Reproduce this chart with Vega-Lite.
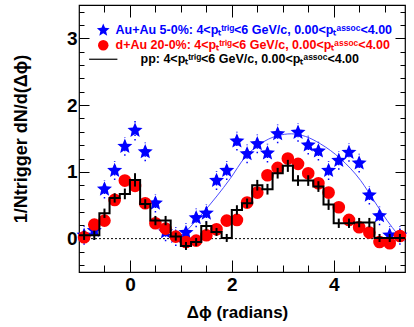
{
  "$schema": "https://vega.github.io/schema/vega-lite/v6.json",
  "width": 326,
  "height": 267,
  "autosize": "none",
  "padding": {"left": 79, "top": 5, "right": 9, "bottom": 55},
  "background": "white",
  "config": {
    "view": {"stroke": "black", "strokeWidth": 1.2},
    "font": "Liberation Sans",
    "axis": {"grid": false, "domain": false, "labelFont": "Liberation Sans", "labelFontWeight": "bold", "labelFontSize": 19, "labelColor": "black", "tickColor": "black", "titleColor": "black", "titleFont": "Liberation Sans", "titleFontWeight": "bold"}
  },
  "datasets": {
    "pts": [
      {"s": "AA", "x": -0.9, "y": 0.05, "lo": -0.09, "hi": 0.19}, {"s": "AA", "x": -0.7, "y": 0.12, "lo": -0.02, "hi": 0.26}, {"s": "AA", "x": -0.5, "y": 0.74, "lo": 0.6, "hi": 0.88}, {"s": "AA", "x": -0.3, "y": 1.02, "lo": 0.88, "hi": 1.16}, {"s": "AA", "x": -0.1, "y": 1.38, "lo": 1.24, "hi": 1.52}, {"s": "AA", "x": 0.1, "y": 1.62, "lo": 1.47, "hi": 1.77}, {"s": "AA", "x": 0.3, "y": 1.30, "lo": 1.16, "hi": 1.44}, {"s": "AA", "x": 0.5, "y": 0.53, "lo": 0.39, "hi": 0.67}, {"s": "AA", "x": 0.7, "y": 0.10, "lo": -0.04, "hi": 0.24}, {"s": "AA", "x": 0.9, "y": 0.03, "lo": -0.11, "hi": 0.17}, {"s": "AA", "x": 1.1, "y": 0.09, "lo": -0.05, "hi": 0.23}, {"s": "AA", "x": 1.3, "y": 0.31, "lo": 0.17, "hi": 0.45}, {"s": "AA", "x": 1.5, "y": 0.38, "lo": 0.24, "hi": 0.52}, {"s": "AA", "x": 1.7, "y": 0.87, "lo": 0.73, "hi": 1.01}, {"s": "AA", "x": 1.9, "y": 1.02, "lo": 0.88, "hi": 1.16}, {"s": "AA", "x": 2.1, "y": 1.46, "lo": 1.32, "hi": 1.6}, {"s": "AA", "x": 2.3, "y": 1.27, "lo": 1.13, "hi": 1.41}, {"s": "AA", "x": 2.5, "y": 1.42, "lo": 1.28, "hi": 1.56}, {"s": "AA", "x": 2.7, "y": 1.28, "lo": 1.14, "hi": 1.42}, {"s": "AA", "x": 2.9, "y": 1.57, "lo": 1.43, "hi": 1.71}, {"s": "AA", "x": 3.3, "y": 1.59, "lo": 1.45, "hi": 1.73}, {"s": "AA", "x": 3.5, "y": 1.40, "lo": 1.26, "hi": 1.54}, {"s": "AA", "x": 3.7, "y": 1.31, "lo": 1.17, "hi": 1.45}, {"s": "AA", "x": 3.9, "y": 1.02, "lo": 0.88, "hi": 1.16}, {"s": "AA", "x": 4.1, "y": 1.17, "lo": 1.03, "hi": 1.31}, {"s": "AA", "x": 4.3, "y": 1.29, "lo": 1.15, "hi": 1.43}, {"s": "AA", "x": 4.5, "y": 1.13, "lo": 0.99, "hi": 1.27}, {"s": "AA", "x": 4.7, "y": 0.65, "lo": 0.51, "hi": 0.79}, {"s": "AA", "x": 4.9, "y": 0.34, "lo": 0.2, "hi": 0.48}, {"s": "AA", "x": 5.1, "y": 0.05, "lo": -0.09, "hi": 0.19}, {"s": "AA", "x": 5.3, "y": 0.05, "lo": -0.09, "hi": 0.19},
      {"s": "DA", "x": -0.9, "y": 0.02}, {"s": "DA", "x": -0.7, "y": 0.21}, {"s": "DA", "x": -0.5, "y": 0.27}, {"s": "DA", "x": -0.3, "y": 0.58}, {"s": "DA", "x": -0.1, "y": 0.87}, {"s": "DA", "x": 0.1, "y": 0.79}, {"s": "DA", "x": 0.3, "y": 0.53}, {"s": "DA", "x": 0.5, "y": 0.23}, {"s": "DA", "x": 0.7, "y": 0.15}, {"s": "DA", "x": 0.9, "y": 0.03}, {"s": "DA", "x": 1.1, "y": -0.05}, {"s": "DA", "x": 1.3, "y": -0.03}, {"s": "DA", "x": 1.5, "y": 0.05}, {"s": "DA", "x": 1.7, "y": 0.14}, {"s": "DA", "x": 1.9, "y": 0.27}, {"s": "DA", "x": 2.1, "y": 0.28}, {"s": "DA", "x": 2.3, "y": 0.54}, {"s": "DA", "x": 2.5, "y": 0.69}, {"s": "DA", "x": 2.7, "y": 0.95}, {"s": "DA", "x": 2.9, "y": 1.06}, {"s": "DA", "x": 3.1, "y": 1.20}, {"s": "DA", "x": 3.3, "y": 1.12}, {"s": "DA", "x": 3.5, "y": 0.98}, {"s": "DA", "x": 3.7, "y": 0.83}, {"s": "DA", "x": 3.9, "y": 0.69}, {"s": "DA", "x": 4.1, "y": 0.47}, {"s": "DA", "x": 4.3, "y": 0.28}, {"s": "DA", "x": 4.5, "y": 0.17}, {"s": "DA", "x": 4.7, "y": 0.09}, {"s": "DA", "x": 4.9, "y": -0.05}, {"s": "DA", "x": 5.1, "y": -0.07}, {"s": "DA", "x": 5.3, "y": 0.04}
    ],
    "pp": [
      {"x": -1.0, "y": 0.05}, {"x": -0.9, "y": 0.05, "lo": -0.02, "hi": 0.12}, {"x": -0.7, "y": 0.05, "lo": -0.02, "hi": 0.12}, {"x": -0.5, "y": 0.38, "lo": 0.31, "hi": 0.45}, {"x": -0.3, "y": 0.61, "lo": 0.54, "hi": 0.68}, {"x": -0.1, "y": 0.67, "lo": 0.59, "hi": 0.75}, {"x": 0.1, "y": 0.88, "lo": 0.78, "hi": 0.98}, {"x": 0.3, "y": 0.52, "lo": 0.45, "hi": 0.59}, {"x": 0.5, "y": 0.27, "lo": 0.2, "hi": 0.34}, {"x": 0.7, "y": 0.27, "lo": 0.2, "hi": 0.34}, {"x": 0.9, "y": 0.03, "lo": -0.03, "hi": 0.09}, {"x": 1.1, "y": -0.11, "lo": -0.17, "hi": -0.05}, {"x": 1.3, "y": -0.05, "lo": -0.11, "hi": 0.01}, {"x": 1.5, "y": 0.19, "lo": 0.12, "hi": 0.26}, {"x": 1.7, "y": 0.10, "lo": 0.04, "hi": 0.16}, {"x": 1.9, "y": 0.01, "lo": -0.05, "hi": 0.07}, {"x": 2.1, "y": 0.43, "lo": 0.36, "hi": 0.5}, {"x": 2.3, "y": 0.53, "lo": 0.46, "hi": 0.6}, {"x": 2.5, "y": 0.80, "lo": 0.72, "hi": 0.88}, {"x": 2.7, "y": 0.74, "lo": 0.66, "hi": 0.82}, {"x": 2.9, "y": 0.98, "lo": 0.9, "hi": 1.06}, {"x": 3.1, "y": 1.09, "lo": 1.0, "hi": 1.18}, {"x": 3.3, "y": 0.87, "lo": 0.79, "hi": 0.95}, {"x": 3.5, "y": 0.87, "lo": 0.79, "hi": 0.95}, {"x": 3.7, "y": 0.78, "lo": 0.7, "hi": 0.86}, {"x": 3.9, "y": 0.51, "lo": 0.43, "hi": 0.59}, {"x": 4.1, "y": 0.23, "lo": 0.16, "hi": 0.3}, {"x": 4.3, "y": 0.23, "lo": 0.16, "hi": 0.3}, {"x": 4.5, "y": 0.24, "lo": 0.17, "hi": 0.31}, {"x": 4.7, "y": 0.24, "lo": 0.17, "hi": 0.31}, {"x": 4.9, "y": 0.01, "lo": -0.05, "hi": 0.07}, {"x": 5.1, "y": 0.01, "lo": -0.05, "hi": 0.07}, {"x": 5.3, "y": 0.01, "lo": -0.05, "hi": 0.07}, {"x": 5.4, "y": 0.01}
    ],
    "fit": [
      {"x": 1.08, "y": 0.09}, {"x": 1.38, "y": 0.34}, {"x": 1.71, "y": 0.64}, {"x": 1.97, "y": 0.90}, {"x": 2.26, "y": 1.22}, {"x": 2.56, "y": 1.42}, {"x": 2.89, "y": 1.54}, {"x": 3.17, "y": 1.57}, {"x": 3.45, "y": 1.53}, {"x": 3.74, "y": 1.42}, {"x": 4.13, "y": 1.20}, {"x": 4.53, "y": 0.87}, {"x": 4.79, "y": 0.57}, {"x": 5.05, "y": 0.27}, {"x": 5.25, "y": 0.07}
    ]
  },
  "resolve": {"axis": {"x": "independent", "y": "independent"}},
  "layer": [
    {
      "data": {"name": "fit"},
      "mark": {"type": "point", "opacity": 0},
      "encoding": {
        "x": {"field": "x", "type": "quantitative", "scale": {"domain": [-1, 5.4], "nice": false, "zero": false},
          "axis": {"values": [-0.5, 0, 0.5, 1, 1.5, 2, 2.5, 3, 3.5, 4, 4.5, 5],
            "labelExpr": "datum.value % 2 === 0 ? format(datum.value, 'd') : ''",
            "tickSize": {"condition": {"test": "datum.value % 2 === 0", "value": -12}, "value": -7},
            "labelPadding": 15, "title": "Δϕ (radians)", "titleFontSize": 17, "titlePadding": 10, "titleX": 158}},
        "y": {"field": "y", "type": "quantitative", "scale": {"domain": [-0.5, 3.5], "nice": false, "zero": false},
          "axis": {"values": [-0.4, -0.2, 0, 0.2, 0.4, 0.6, 0.8, 1, 1.2, 1.4, 1.6, 1.8, 2, 2.2, 2.4, 2.6, 2.8, 3, 3.2, 3.4],
            "labelExpr": "abs(datum.value - round(datum.value)) < 0.001 ? format(datum.value, 'd') : ''",
            "tickSize": {"condition": {"test": "abs(datum.value - round(datum.value)) < 0.001", "value": -10}, "value": -5},
            "labelPadding": 12, "title": "1/Ntrigger dN/d(Δϕ)", "titleFontSize": 18, "titlePadding": 36}}
      }
    },
    {
      "data": {"name": "fit"},
      "mark": {"type": "line", "color": "#3535ff", "strokeWidth": 0.9, "interpolate": "monotone"},
      "encoding": {
        "x": {"field": "x", "type": "quantitative",
          "axis": {"values": [-0.5, 0, 0.5, 1, 1.5, 2, 2.5, 3, 3.5, 4, 4.5, 5], "labels": false, "title": null,
            "tickSize": {"condition": {"test": "datum.value % 2 === 0", "value": -12}, "value": -7}}},
        "y": {"field": "y", "type": "quantitative",
          "axis": {"values": [-0.4, -0.2, 0, 0.2, 0.4, 0.6, 0.8, 1, 1.2, 1.4, 1.6, 1.8, 2, 2.2, 2.4, 2.6, 2.8, 3, 3.2, 3.4], "labels": false, "title": null,
            "tickSize": {"condition": {"test": "abs(datum.value - round(datum.value)) < 0.001", "value": -10}, "value": -5}}}
      }
    },
    {
      "data": {"values": [{"y": 0}]},
      "mark": {"type": "rule", "color": "black", "strokeDash": [2, 2], "strokeWidth": 1},
      "encoding": {
        "y": {"field": "y", "type": "quantitative", "axis": null}
      }
    },
    {
      "data": {"name": "pts"},
      "transform": [{"filter": "datum.s === 'AA'"}],
      "mark": {"type": "rule", "color": "blue", "strokeWidth": 1.5, "strokeDash": [1.5, 3]},
      "encoding": {
        "x": {"field": "x", "type": "quantitative", "axis": null},
        "y": {"field": "lo", "type": "quantitative", "axis": null},
        "y2": {"field": "hi"}
      }
    },
    {
      "data": {"name": "pts"},
      "transform": [{"filter": "datum.s === 'AA'"}],
      "mark": {"type": "point", "shape": "M0,-1L0.265,-0.364L0.951,-0.309L0.428,0.139L0.588,0.809L0,0.45L-0.588,0.809L-0.428,0.139L-0.951,-0.309L-0.265,-0.364Z", "filled": true, "opacity": 1, "size": 250, "color": "#0000ff"},
      "encoding": {
        "x": {"field": "x", "type": "quantitative", "axis": null},
        "y": {"field": "y", "type": "quantitative", "axis": null}
      }
    },
    {
      "data": {"name": "pts"},
      "transform": [{"filter": "datum.s === 'DA'"}],
      "mark": {"type": "point", "shape": "circle", "filled": true, "opacity": 1, "size": 160, "color": "#ff0000"},
      "encoding": {
        "x": {"field": "x", "type": "quantitative", "axis": null},
        "y": {"field": "y", "type": "quantitative", "axis": null}
      }
    },
    {
      "data": {"name": "pp"},
      "mark": {"type": "line", "color": "black", "strokeWidth": 2, "interpolate": "step"},
      "encoding": {
        "x": {"field": "x", "type": "quantitative", "axis": null},
        "y": {"field": "y", "type": "quantitative", "axis": null}
      }
    },
    {
      "data": {"name": "pp"},
      "transform": [{"filter": "isValid(datum.lo)"}],
      "mark": {"type": "rule", "color": "black", "strokeWidth": 2},
      "encoding": {
        "x": {"field": "x", "type": "quantitative", "axis": null},
        "y": {"field": "lo", "type": "quantitative", "axis": null},
        "y2": {"field": "hi"}
      }
    },
    {
      "data": {"name": "pts"},
      "mark": {"type": "point", "filled": true, "opacity": 0, "size": 130},
      "encoding": {
        "x": {"field": "x", "type": "quantitative", "axis": null},
        "y": {"field": "y", "type": "quantitative", "axis": null},
        "color": {"field": "s", "type": "nominal", "scale": {"domain": ["AA", "DA", "PP"], "range": ["#0000ff", "#ff0000", "#000000"]},
          "legend": {"orient": "none", "legendX": 18, "legendY": 19, "title": null, "padding": 0, "rowPadding": -8,
            "labelFont": "Liberation Sans", "labelFontWeight": "bold", "labelFontSize": 12.5, "labelLimit": 400, "symbolSize": 130, "labelOffset": 6,
            "labelExpr": "datum.value === 'AA' ? 'Au+Au 5-0%: 4<pₜᵗʳⁱᵍ<6 GeV/c, 0.00<pₜᵃˢˢᵒᶜ<4.00' : datum.value === 'DA' ? 'd+Au 20-0%: 4<pₜᵗʳⁱᵍ<6 GeV/c, 0.00<pₜᵃˢˢᵒᶜ<4.00' : 'pp: 4<pₜᵗʳⁱᵍ<6 GeV/c, 0.00<pₜᵃˢˢᵒᶜ<4.00'",
            "encode": {
              "labels": {"update": {"fill": {"signal": "datum.value === 'AA' ? '#0000ff' : datum.value === 'DA' ? '#ff0000' : '#000000'"}, "dx": {"signal": "datum.value === 'PP' ? 25 : 0"}}},
              "symbols": {"update": {"opacity": {"value": 1}, "stroke": {"signal": "datum.value === 'PP' ? '#000000' : 'transparent'"}, "strokeWidth": {"value": 1.2}, "size": {"signal": "datum.value === 'PP' ? 800 : datum.value === 'AA' ? 180 : 110"}}}
            }}},
        "shape": {"field": "s", "type": "nominal", "scale": {"domain": ["AA", "DA", "PP"], "range": ["M0,-1L0.265,-0.364L0.951,-0.309L0.428,0.139L0.588,0.809L0,0.45L-0.588,0.809L-0.428,0.139L-0.951,-0.309L-0.265,-0.364Z", "circle", "stroke"]}}
      }
    }
  ]
}
